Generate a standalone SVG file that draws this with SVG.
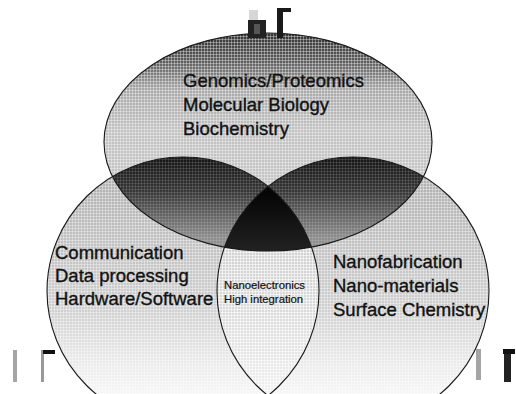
<svg xmlns="http://www.w3.org/2000/svg" width="516" height="394" viewBox="0 0 516 394">
<defs>
  <style>
    .big { font-family: "Liberation Sans", Arial, sans-serif; font-size: 18.5px; fill: #111; stroke: #111; stroke-width: 0.35px; }
    .small { font-family: "Liberation Sans", Arial, sans-serif; font-size: 11.3px; fill: #111; stroke: #111; stroke-width: 0.2px; }
    .edge { fill: none; stroke: #1a1a1a; stroke-width: 1.1; }
  </style>
  <linearGradient id="gTop" x1="0" y1="33" x2="0" y2="250" gradientUnits="userSpaceOnUse">
    <stop offset="0" stop-color="#333333"/>
    <stop offset="0.13" stop-color="#5c5c5c"/>
    <stop offset="0.26" stop-color="#a8a8a8"/>
    <stop offset="0.45" stop-color="#c2c2c2"/>
    <stop offset="1" stop-color="#c8c8c8"/>
  </linearGradient>
  <linearGradient id="gSide" x1="0" y1="155" x2="0" y2="394" gradientUnits="userSpaceOnUse">
    <stop offset="0" stop-color="#aaaaaa"/>
    <stop offset="0.35" stop-color="#c0c0c0"/>
    <stop offset="0.65" stop-color="#d0d0d0"/>
    <stop offset="0.85" stop-color="#e8e8e8"/>
    <stop offset="1" stop-color="#f6f6f6"/>
  </linearGradient>
  <linearGradient id="gLow" x1="0" y1="186" x2="0" y2="394" gradientUnits="userSpaceOnUse">
    <stop offset="0" stop-color="#c8c8c8"/>
    <stop offset="0.6" stop-color="#dadada"/>
    <stop offset="1" stop-color="#f0f0f0"/>
  </linearGradient>
  <linearGradient id="gLens" x1="0" y1="152" x2="0" y2="238" gradientUnits="userSpaceOnUse">
    <stop offset="0" stop-color="#101010"/>
    <stop offset="0.45" stop-color="#363636"/>
    <stop offset="1" stop-color="#8e8e8e"/>
  </linearGradient>
  <linearGradient id="gCenter" x1="0" y1="186" x2="0" y2="252" gradientUnits="userSpaceOnUse">
    <stop offset="0" stop-color="#020202"/>
    <stop offset="1" stop-color="#222222"/>
  </linearGradient>
  <clipPath id="cLeft"><ellipse cx="183" cy="291" rx="136" ry="134"/></clipPath>
  <clipPath id="cRight"><ellipse cx="353" cy="291" rx="136" ry="134"/></clipPath>
  <pattern id="halftone" width="3" height="3" patternUnits="userSpaceOnUse">
    <rect x="0" y="0" width="3" height="1" fill="#ffffff" opacity="0.35"/>
    <rect x="0" y="0" width="1" height="3" fill="#ffffff" opacity="0.35"/>
  </pattern>
  <pattern id="halftoneDark" width="3" height="3" patternUnits="userSpaceOnUse">
    <rect x="0" y="0" width="3" height="1" fill="#ffffff" opacity="0.12"/>
    <rect x="0" y="0" width="1" height="3" fill="#ffffff" opacity="0.12"/>
  </pattern>
</defs>
<rect width="516" height="394" fill="#ffffff"/>

<g id="fills">
  <ellipse cx="183" cy="291" rx="136" ry="134" fill="url(#gSide)"/>
  <ellipse cx="353" cy="291" rx="136" ry="134" fill="url(#gSide)"/>
  <g clip-path="url(#cRight)"><ellipse cx="183" cy="291" rx="136" ry="134" fill="url(#gLow)"/></g>
  <ellipse cx="268" cy="142" rx="164" ry="109" fill="url(#gTop)"/>
  <g>
    <ellipse cx="183" cy="291" rx="136" ry="134" fill="url(#halftone)"/>
    <ellipse cx="353" cy="291" rx="136" ry="134" fill="url(#halftone)"/>
    <ellipse cx="268" cy="142" rx="164" ry="109" fill="url(#halftone)"/>
  </g>
  <g clip-path="url(#cLeft)"><ellipse cx="268" cy="142" rx="164" ry="109" fill="url(#gLens)"/><ellipse cx="268" cy="142" rx="164" ry="109" fill="url(#halftoneDark)"/></g>
  <g clip-path="url(#cRight)"><ellipse cx="268" cy="142" rx="164" ry="109" fill="url(#gLens)"/><ellipse cx="268" cy="142" rx="164" ry="109" fill="url(#halftoneDark)"/></g>
  <g clip-path="url(#cLeft)"><g clip-path="url(#cRight)"><ellipse cx="268" cy="142" rx="164" ry="109" fill="url(#gCenter)"/></g></g>
</g>

<g id="node-bio">
  <ellipse class="edge" cx="268" cy="142" rx="164" ry="109"/>
  <text class="big" x="183" y="87">Genomics/Proteomics</text>
  <text class="big" x="183" y="111">Molecular Biology</text>
  <text class="big" x="183" y="135">Biochemistry</text>
</g>

<g id="node-it">
  <ellipse class="edge" cx="183" cy="291" rx="136" ry="134"/>
  <text class="big" x="55" y="259">Communication</text>
  <text class="big" x="55" y="282">Data processing</text>
  <text class="big" x="55" y="305">Hardware/Software</text>
</g>

<g id="node-nano">
  <ellipse class="edge" cx="353" cy="291" rx="136" ry="134"/>
  <text class="big" x="333" y="268">Nanofabrication</text>
  <text class="big" x="333" y="292">Nano-materials</text>
  <text class="big" x="333" y="316">Surface Chemistry</text>
</g>

<g id="node-it-nano">
  <text class="small" x="224" y="289">Nanoelectronics</text>
  <text class="small" x="224" y="303">High integration</text>
</g>

<g id="connectors"></g>

<g id="marks">
  <rect x="249" y="10" width="9" height="10" fill="#bbbbbb" opacity="0.6"/>
  <rect x="248" y="20" width="18" height="18" fill="#222"/>
  <rect x="254" y="24" width="6" height="10" fill="#555"/>
  <rect x="277" y="10" width="6" height="28" fill="#1a1a1a"/>
  <rect x="277" y="8" width="14" height="4" fill="#1a1a1a"/>
  <rect x="13" y="350" width="4" height="32" fill="#a5a5a5"/>
  <rect x="41" y="350" width="3" height="32" fill="#999"/>
  <rect x="43" y="350" width="12" height="4" fill="#111"/>
  <rect x="476" y="349" width="5" height="31" fill="#a5a5a5"/>
  <rect x="504" y="350" width="7" height="32" fill="#222"/>
  <rect x="503" y="349" width="12" height="5" fill="#111"/>
</g>
</svg>
